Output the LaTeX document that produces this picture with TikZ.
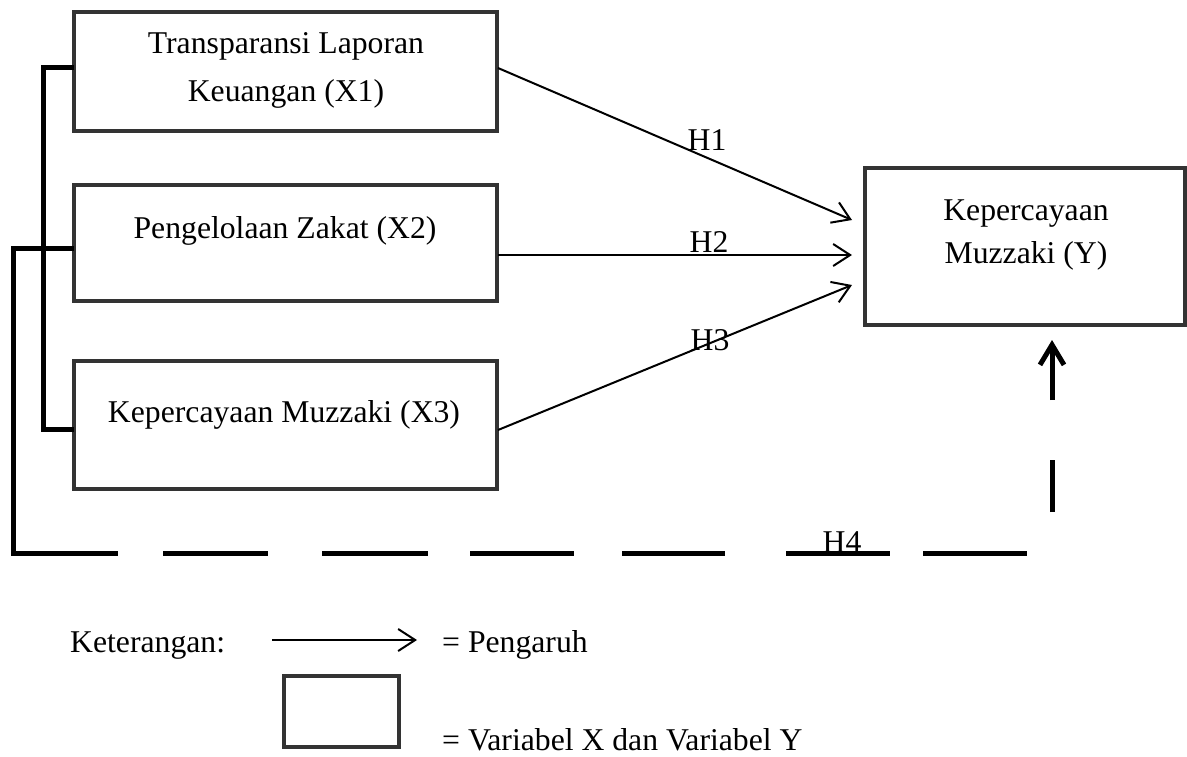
\documentclass[tikz,border=0pt]{standalone}
\usepackage{fontspec}
\setmainfont{Liberation Serif}
\usetikzlibrary{arrows.meta}
\definecolor{boxgray}{HTML}{333333}
\begin{document}
\begin{tikzpicture}[x=1pt,y=-1pt,
  box/.style={draw=boxgray, line width=4pt, inner sep=0pt, outer sep=0pt},
  txt/.style={anchor=base, inner sep=0pt, font=\fontsize{31.7}{38}\selectfont},
  txtw/.style={anchor=base west, inner sep=0pt, font=\fontsize{31.7}{38}\selectfont},
  arr/.style={line width=2pt, -{Straight Barb[length=17pt,width=22pt]}},
  thickline/.style={line width=5pt, black},
]
\useasboundingbox (0,0) rectangle (1187,756);

% boxes
\node[box, minimum width=423pt, minimum height=119pt] (x1) at (285.5,71.5) {};
\node[box, minimum width=423pt, minimum height=116pt] (x2) at (285.5,243) {};
\node[box, minimum width=423pt, minimum height=128pt] (x3) at (285.5,425) {};
\node[box, minimum width=320pt, minimum height=157pt] (yb) at (1025,246.5) {};
\node[box, minimum width=115pt, minimum height=71pt] (leg) at (341.5,711.5) {};

% box texts
\node[txt] (x1a) at (286,53) {Transparansi Laporan};
\node[txt] (x1b) at (286,101) {Keuangan (X1)};
\node[txt] (x2a) at (285,238) {Pengelolaan Zakat (X2)};
\node[txt] (x3a) at (284,422) {Kepercayaan Muzzaki (X3)};
\node[txt] (ya) at (1026,220) {Kepercayaan};
\node[txt] (yb2) at (1026,263) {Muzzaki (Y)};

% arrows H1-H3
\coordinate (s1) at (498,68);  \coordinate (t1) at (852,220);
\coordinate (s2) at (498,255); \coordinate (t2) at (852,255);
\coordinate (s3) at (498,430); \coordinate (t3) at (852,285);
\draw[arr] (s1) -- (t1);
\draw[arr] (s2) -- (t2);
\draw[arr] (s3) -- (t3);
\node[txt] (h1) at (707,150) {H1};
\node[txt] (h2) at (709,252) {H2};
\node[txt] (h3) at (710,350) {H3};

% left bracket
\draw[thickline] (74,67) -- (43,67) -- (43,429) -- (74,429);
\draw[thickline] (74,248) -- (13,248) -- (13,553) -- (118,553);

% dashed H4 line
\draw[thickline] (163,553) -- (268,553);
\draw[thickline] (322,553) -- (428,553);
\draw[thickline] (470,553) -- (574,553);
\draw[thickline] (622,553) -- (725,553);
\draw[thickline] (786,553) -- (890,553);
\draw[thickline] (923,553) -- (1027,553);
\draw[thickline] (1052,512) -- (1052,460);
\coordinate (v1) at (1052,400); \coordinate (v2) at (1052,340);
\draw[thickline, -{Straight Barb[length=20pt,width=24pt]}] (v1) -- (v2);
\node[txt] (h4) at (842,552) {H4};

% legend
\node[txtw] (ket) at (70,652) {Keterangan:};
\coordinate (la) at (272,640); \coordinate (lb) at (417,640);
\draw[arr] (la) -- (lb);
\node[txtw] (peng) at (442,652) {= Pengaruh};
\node[txtw] (var) at (442,750) {= Variabel X dan Variabel Y};
\end{tikzpicture}
\end{document}
